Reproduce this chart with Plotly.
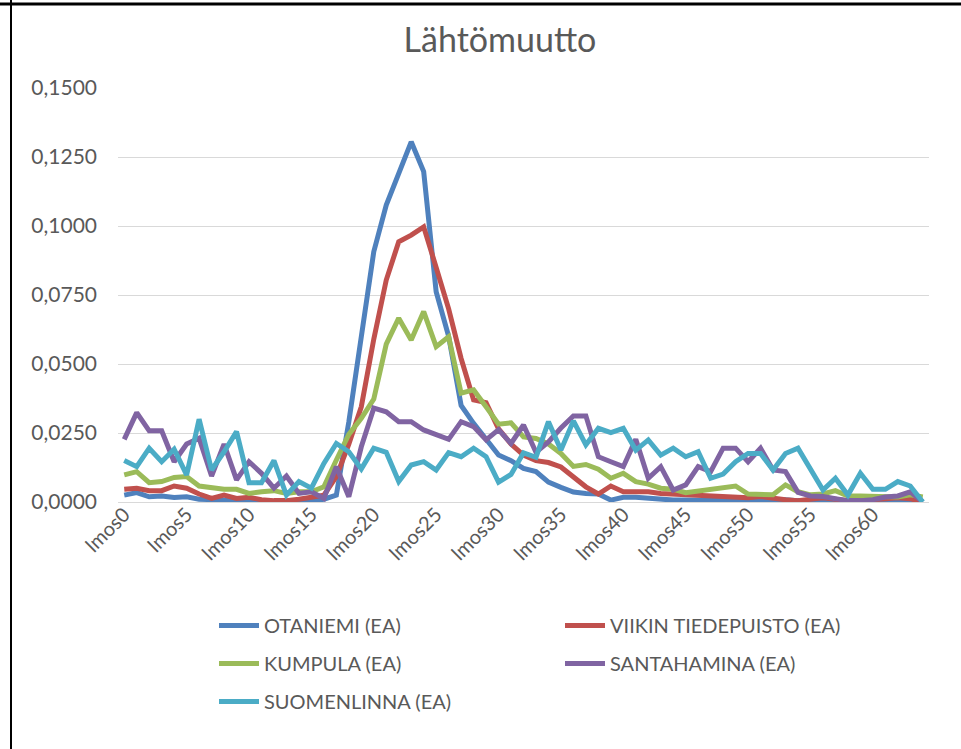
import plotly.graph_objects as go

categories = [f"lmos{i}" for i in range(65)]
tick_labels = [f"lmos{i}" for i in range(0, 65, 5)]

otaniemi = [0.0025, 0.0034, 0.0019, 0.0022, 0.0016, 0.0019, 0.0010, 0.0008, 0.0010, 0.0005,
            0.0005, 0.0002, 0.0000, 0.0000, 0.0002, 0.0003, 0.0010, 0.0025, 0.0290, 0.0600,
            0.0907, 0.1076, 0.1191, 0.1305, 0.1197, 0.0762, 0.0600, 0.0350, 0.0285, 0.0225,
            0.0170, 0.0150, 0.0122, 0.0110, 0.0072, 0.0053, 0.0036, 0.0031, 0.0029, 0.0007,
            0.0017, 0.0017, 0.0013, 0.0010, 0.0007, 0.0007, 0.0005, 0.0005, 0.0005, 0.0005,
            0.0008, 0.0003, 0.0005, 0.0008, 0.0005, 0.0005, 0.0005, 0.0003, 0.0002, 0.0003,
            0.0002, 0.0003, 0.0002, 0.0005, 0.0000]
viikki = [0.0046, 0.0050, 0.0041, 0.0041, 0.0058, 0.0050, 0.0029, 0.0013, 0.0025, 0.0013,
          0.0017, 0.0008, 0.0005, 0.0005, 0.0010, 0.0017, 0.0025, 0.0092, 0.0210, 0.0345,
          0.0590, 0.0804, 0.0943, 0.0967, 0.0997, 0.0850, 0.0700, 0.0520, 0.0370, 0.0360,
          0.0265, 0.0210, 0.0170, 0.0150, 0.0143, 0.0127, 0.0091, 0.0055, 0.0029, 0.0058,
          0.0037, 0.0037, 0.0037, 0.0031, 0.0029, 0.0025, 0.0022, 0.0022, 0.0020, 0.0019,
          0.0015, 0.0020, 0.0012, 0.0008, 0.0005, 0.0010, 0.0015, 0.0010, 0.0005, 0.0005,
          0.0010, 0.0012, 0.0015, 0.0012, 0.0000]
kumpula = [0.0098, 0.0110, 0.0070, 0.0074, 0.0089, 0.0092, 0.0058, 0.0052, 0.0046, 0.0046,
           0.0031, 0.0037, 0.0041, 0.0031, 0.0037, 0.0037, 0.0055, 0.0152, 0.0245, 0.0303,
           0.0373, 0.0572, 0.0666, 0.0587, 0.0690, 0.0563, 0.0599, 0.0394, 0.0406, 0.0345,
           0.0282, 0.0287, 0.0236, 0.0230, 0.0210, 0.0176, 0.0129, 0.0136, 0.0119, 0.0086,
           0.0104, 0.0074, 0.0065, 0.0050, 0.0046, 0.0034, 0.0040, 0.0047, 0.0053, 0.0058,
           0.0029, 0.0029, 0.0026, 0.0062, 0.0037, 0.0026, 0.0029, 0.0041, 0.0022, 0.0022,
           0.0020, 0.0020, 0.0018, 0.0026, 0.0018]
santahamina = [0.0227, 0.0324, 0.0258, 0.0258, 0.0146, 0.0210, 0.0231, 0.0094, 0.0210, 0.0080,
               0.0146, 0.0104, 0.0050, 0.0094, 0.0031, 0.0037, 0.0013, 0.0128, 0.0019, 0.0200,
               0.0340, 0.0327, 0.0291, 0.0291, 0.0261, 0.0243, 0.0227, 0.0291, 0.0273, 0.0225,
               0.0262, 0.0212, 0.0279, 0.0180, 0.0218, 0.0268, 0.0312, 0.0312, 0.0164, 0.0146,
               0.0128, 0.0227, 0.0086, 0.0128, 0.0043, 0.0062, 0.0128, 0.0110, 0.0195, 0.0195,
               0.0146, 0.0195, 0.0116, 0.0110, 0.0035, 0.0022, 0.0020, 0.0012, 0.0005, 0.0005,
               0.0008, 0.0018, 0.0022, 0.0037, 0.0000]
suomenlinna = [0.0150, 0.0128, 0.0195, 0.0146, 0.0191, 0.0098, 0.0300, 0.0116, 0.0182, 0.0255,
               0.0070, 0.0070, 0.0150, 0.0025, 0.0074, 0.0050, 0.0140, 0.0212, 0.0182, 0.0120,
               0.0195, 0.0180, 0.0074, 0.0134, 0.0146, 0.0116, 0.0179, 0.0164, 0.0195, 0.0164,
               0.0072, 0.0100, 0.0178, 0.0162, 0.0291, 0.0188, 0.0294, 0.0207, 0.0267, 0.0251,
               0.0267, 0.0188, 0.0225, 0.0170, 0.0195, 0.0164, 0.0182, 0.0086, 0.0101, 0.0146,
               0.0176, 0.0176, 0.0116, 0.0176, 0.0195, 0.0116, 0.0043, 0.0086, 0.0025, 0.0104,
               0.0046, 0.0046, 0.0074, 0.0058, 0.0000]

series = [
    ("OTANIEMI (EA)", otaniemi, "#4F81BD", "legend", "g1"),
    ("VIIKIN TIEDEPUISTO (EA)", viikki, "#C0504D", "legend2", "g2"),
    ("KUMPULA (EA)", kumpula, "#9BBB59", "legend", "g3"),
    ("SANTAHAMINA (EA)", santahamina, "#8064A2", "legend2", "g4"),
    ("SUOMENLINNA (EA)", suomenlinna, "#4BACC6", "legend", "g5"),
]

FONT = "Lato"
TXT = "#595959"

fig = go.Figure()
for name, vals, color, leg, grp in series:
    fig.add_trace(go.Scatter(
        x=categories, y=vals, mode="lines", name=name,
        line=dict(color=color, width=5, shape="linear"),
        legend=leg, legendgroup=grp,
    ))

W, H = 961, 749
L, R, T, B = 118, 32, 88, 247
pw, ph = W - L - R, H - T - B

def px_to_paper(x, y):
    return (x - L) / pw, (H - B - y) / ph

legend_common = dict(
    orientation="v", xanchor="left", yanchor="top",
    font=dict(family=FONT, size=20, color=TXT),
    bgcolor="rgba(0,0,0,0)", tracegroupgap=9,
    itemwidth=40, traceorder="grouped",
)
lx1, ly = px_to_paper(214, 606)
lx2, _ = px_to_paper(560, 606)

fig.update_layout(
    width=W, height=H,
    margin=dict(l=L, r=R, t=T, b=B, autoexpand=False),
    paper_bgcolor="white", plot_bgcolor="white",
    separators=", ",
    title=dict(text="Lähtömuutto", x=500 / W, xanchor="center",
               y=1 - 40 / H, yanchor="middle",
               font=dict(family=FONT, size=34, color=TXT)),
    legend=dict(x=lx1, y=ly, **legend_common),
    legend2=dict(x=lx2, y=ly, **legend_common),
    xaxis=dict(
        type="category", range=[-0.5, 64.5],
        tickmode="array", tickvals=tick_labels, ticktext=tick_labels,
        tickangle=-45, tickfont=dict(family=FONT, size=20, color=TXT),
        showgrid=False, zeroline=False, showline=False, ticks="",
        ticklabelstandoff=-4,
    ),
    yaxis=dict(
        range=[0, 0.15], dtick=0.025, tick0=0, tickformat=".4f",
        tickfont=dict(family=FONT, size=21, color=TXT),
        showgrid=True, gridcolor="#D9D9D9", gridwidth=1,
        zeroline=True, zerolinecolor="#D9D9D9", zerolinewidth=1,
        showline=False, ticks="", ticklabelstandoff=20,
    ),
)

# outer cell border lines visible in the reference screenshot
x0p, _ = px_to_paper(0, 0)
x1p, _ = px_to_paper(W, 0)
_, ytop = px_to_paper(0, 4)
xl, _ = px_to_paper(11, 0)
_, ybot = px_to_paper(0, H)
_, ytop0 = px_to_paper(0, 0)
fig.add_shape(type="line", xref="paper", yref="paper", x0=x0p, x1=x1p, y0=ytop, y1=ytop,
              line=dict(color="black", width=3))
fig.add_shape(type="line", xref="paper", yref="paper", x0=xl, x1=xl, y0=ybot, y1=ytop0,
              line=dict(color="black", width=2))

fig.write_html("out.html", config={"displayModeBar": False},
               post_script="document.body.style.margin='0';document.body.style.overflow='hidden';")
